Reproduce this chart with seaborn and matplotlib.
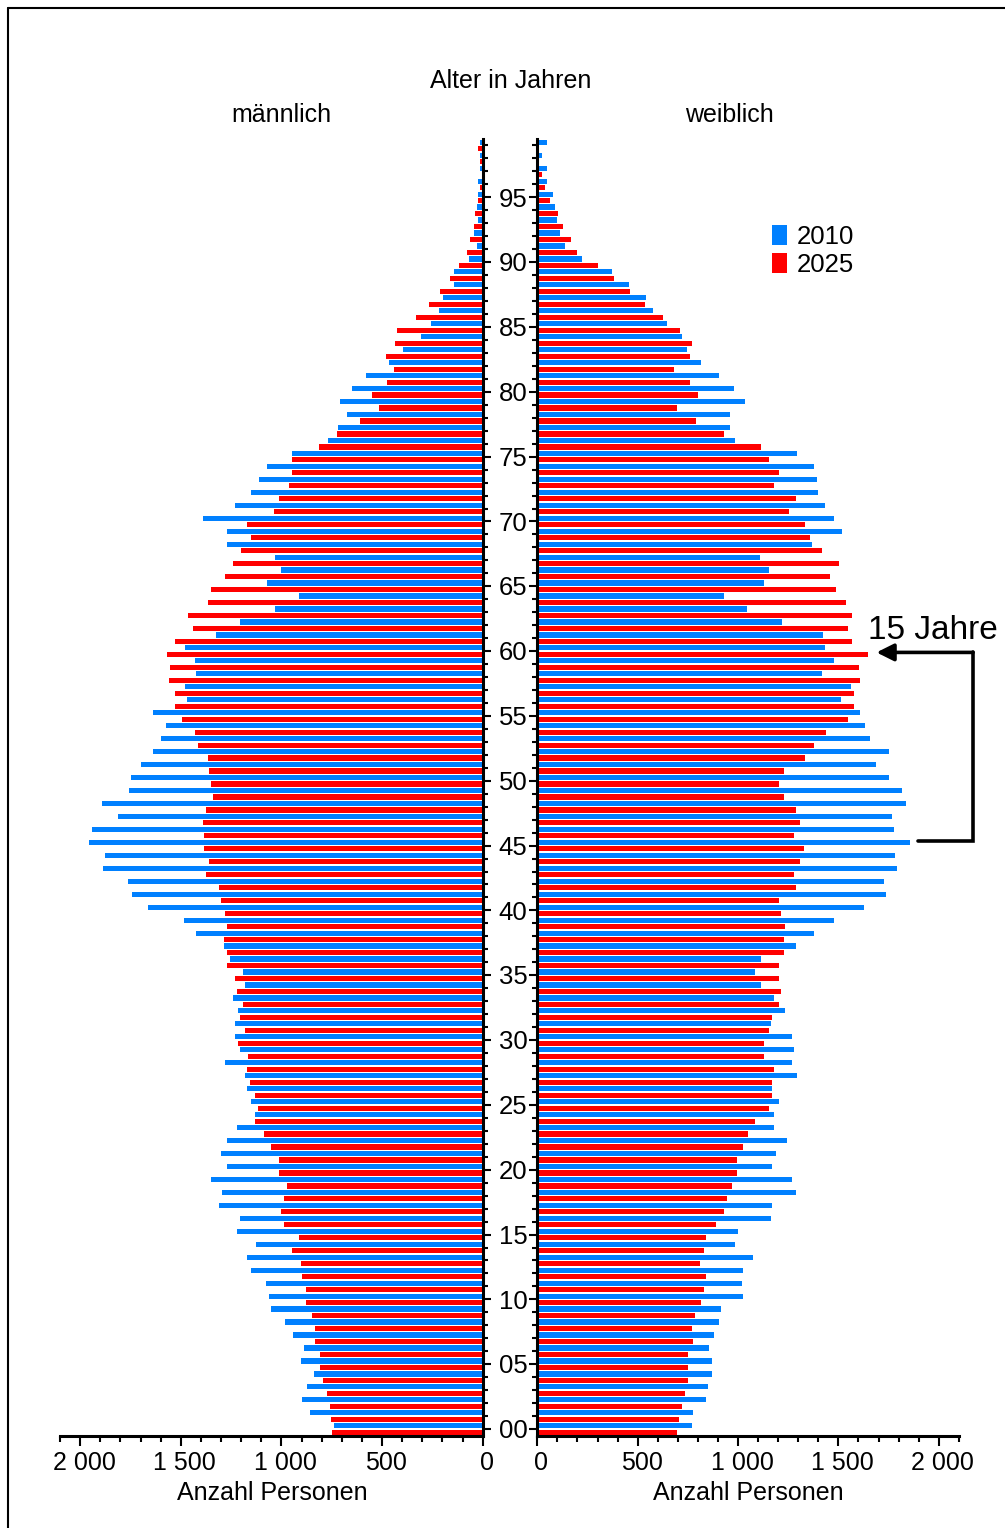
import matplotlib
matplotlib.use("Agg")
import matplotlib.pyplot as plt
import pandas as pd
import seaborn as sns
from matplotlib.lines import Line2D
from matplotlib.patches import Patch
from matplotlib.ticker import FixedLocator, FuncFormatter, MultipleLocator
from matplotlib.transforms import blended_transform_factory, ScaledTranslation

# Population by single year of age (0 ... 99), persons
ages = list(range(100))
years = ["2010", "2025"]
colors = {"2010": "#0080FF", "2025": "#FF0000"}

male_2010 = [740, 860, 900, 875, 840, 905, 890, 940, 980, 1050,
             1060, 1075, 1150, 1170, 1125, 1220, 1205, 1310, 1295, 1350,
             1270, 1300, 1270, 1220, 1130, 1150, 1170, 1180, 1280, 1205,
             1230, 1230, 1215, 1240, 1180, 1190, 1255, 1285, 1425, 1485,
             1665, 1740, 1760, 1885, 1875, 1955, 1940, 1810, 1890, 1755,
             1745, 1700, 1640, 1600, 1575, 1640, 1470, 1480, 1425, 1430,
             1480, 1325, 1205, 1030, 915, 1070, 1000, 1030, 1270, 1270,
             1390, 1230, 1150, 1110, 1070, 945, 770, 720, 675, 710,
             650, 580, 465, 395, 305, 255, 215, 195, 145, 145,
             70, 30, 45, 25, 30, 25, 25, 15, 15, 15]

male_2025 = [750, 755, 760, 775, 795, 810, 810, 835, 835, 850,
             880, 880, 900, 905, 945, 915, 985, 1000, 985, 970,
             1010, 1010, 1050, 1085, 1130, 1115, 1130, 1155, 1170, 1165,
             1215, 1180, 1205, 1190, 1220, 1230, 1270, 1270, 1285, 1270,
             1280, 1300, 1310, 1375, 1360, 1385, 1385, 1390, 1375, 1340,
             1350, 1360, 1365, 1415, 1430, 1495, 1530, 1530, 1560, 1555,
             1570, 1530, 1440, 1465, 1365, 1350, 1280, 1240, 1200, 1150,
             1170, 1035, 1010, 960, 945, 945, 815, 725, 610, 515,
             550, 475, 440, 480, 435, 425, 330, 265, 210, 160,
             120, 80, 65, 45, 40, 25, 15, 0, 15, 25]

female_2010 = [770, 775, 840, 850, 870, 870, 855, 880, 905, 915,
               1025, 1020, 1025, 1075, 985, 1000, 1165, 1170, 1290, 1270,
               1170, 1190, 1245, 1180, 1180, 1205, 1170, 1295, 1270, 1280,
               1270, 1165, 1235, 1180, 1115, 1085, 1115, 1290, 1380, 1480,
               1630, 1735, 1725, 1790, 1780, 1855, 1775, 1765, 1835, 1815,
               1750, 1685, 1750, 1660, 1635, 1610, 1515, 1565, 1420, 1480,
               1435, 1425, 1220, 1045, 930, 1130, 1155, 1110, 1370, 1520,
               1480, 1435, 1400, 1395, 1380, 1295, 985, 960, 960, 1035,
               980, 905, 815, 745, 720, 645, 575, 540, 455, 370,
               225, 140, 115, 100, 90, 80, 50, 50, 25, 50]

female_2025 = [695, 705, 720, 735, 750, 750, 750, 775, 770, 785,
               815, 830, 840, 810, 830, 840, 890, 930, 945, 970,
               995, 995, 1025, 1050, 1085, 1155, 1170, 1170, 1180, 1130,
               1130, 1155, 1170, 1205, 1215, 1205, 1205, 1230, 1230, 1235,
               1215, 1205, 1290, 1280, 1310, 1330, 1280, 1310, 1290, 1230,
               1205, 1230, 1335, 1380, 1440, 1550, 1580, 1580, 1610, 1605,
               1650, 1570, 1550, 1570, 1540, 1490, 1460, 1505, 1420, 1360,
               1335, 1255, 1290, 1180, 1205, 1155, 1115, 930, 790, 695,
               800, 760, 680, 760, 770, 710, 625, 535, 460, 380,
               300, 200, 170, 130, 105, 65, 40, 25, 0, 0]

x_ticks = [0, 500, 1000, 1500, 2000]
age_labels = list(range(0, 100, 5))

sns.set_theme(style="ticks", rc={
    "axes.edgecolor": "black",
    "xtick.color": "black",
    "ytick.color": "black",
    "text.color": "black",
    "axes.labelcolor": "black",
})
plt.rcParams["font.family"] = ["Liberation Sans", "DejaVu Sans"]

W, H = 1005, 1528
fig = plt.figure(figsize=(W / 100, H / 100), dpi=100)


def px_box(x0, x1, y_top, y_bot):
    return [x0 / W, 1 - y_bot / H, (x1 - x0) / W, (y_bot - y_top) / H]


ax_m = fig.add_axes(px_box(60, 482.7, 139, 1435.5))
ax_f = fig.add_axes(px_box(537.3, 958.8, 139, 1435.5))

order = [str(a) for a in range(99, -1, -1)]


def long_table(values_2010, values_2025):
    return pd.DataFrame({
        "Alter": [str(a) for a in ages] * 2,
        "Anzahl": list(values_2010) + list(values_2025),
        "Jahr": ["2010"] * len(ages) + ["2025"] * len(ages),
    })


for ax, table in ((ax_m, long_table(male_2010, male_2025)),
                  (ax_f, long_table(female_2010, female_2025))):
    sns.barplot(data=table, x="Anzahl", y="Alter", hue="Jahr",
                order=order, hue_order=years, palette=colors,
                orient="y", width=1.0, gap=0.2, saturation=1,
                linewidth=0, errorbar=None, legend=False, ax=ax)

ax_m.set_xlim(2100, 0)
ax_f.set_xlim(0, 2100)

thousands = FuncFormatter(lambda v, p: f"{int(round(v)):,}".replace(",", " "))
label_shift = ScaledTranslation(4 / 100, 0, fig.dpi_scale_trans)

for ax in (ax_m, ax_f):
    ax.set_ylim(99.5, -0.5)
    ax.set_xlabel("")
    ax.set_ylabel("")
    ax.xaxis.set_major_locator(FixedLocator(x_ticks))
    ax.xaxis.set_minor_locator(MultipleLocator(100))
    ax.xaxis.set_major_formatter(thousands)
    ax.tick_params(axis="x", which="major", direction="out", length=7.2,
                   width=1.5, labelsize=18, pad=4, bottom=True)
    ax.tick_params(axis="x", which="minor", direction="out", length=4.3,
                   width=1.5, bottom=True)
    ax.yaxis.set_major_locator(FixedLocator([99 - a for a in age_labels]))
    ax.yaxis.set_minor_locator(FixedLocator([99 - a for a in ages]))
    ax.spines["top"].set_visible(False)
    for s in ax.spines.values():
        s.set_linewidth(2.2)
        s.set_color("black")

# men: axis line on the right, next to the age column
ax_m.spines["left"].set_visible(False)
ax_m.yaxis.tick_right()
ax_m.tick_params(axis="y", which="major", direction="out", length=6.1,
                 width=1.5, left=False, right=True, labelleft=False, labelright=False)
ax_m.tick_params(axis="y", which="minor", direction="out", length=3.6,
                 width=1.5, left=False, right=True)

# women: axis line on the left
ax_f.spines["right"].set_visible(False)
ax_f.tick_params(axis="y", which="major", direction="out", length=6.1,
                 width=1.5, left=True, right=False, labelleft=False)
ax_f.tick_params(axis="y", which="minor", direction="out", length=3.6,
                 width=1.5, left=True, right=False)

# nudge the count labels slightly to the right
for ax in (ax_m, ax_f):
    for lab in ax.get_xticklabels():
        lab.set_transform(lab.get_transform() + label_shift)

# age labels in the centre column
trans = blended_transform_factory(fig.transFigure, ax_f.transData)
for a in age_labels:
    ax_f.text(513 / W, 99 - a + 0.17, f"{a:02d}", transform=trans, ha="center",
              va="center", fontsize=18.5, clip_on=False)

# headings and axis titles
fig.text(511 / W, 1 - 81 / H, "Alter in Jahren", ha="center", va="center", fontsize=18)
fig.text(281 / W, 1 - 115 / H, "männlich", ha="center", va="center", fontsize=18)
fig.text(729 / W, 1 - 115 / H, "weiblich", ha="center", va="center", fontsize=18)
fig.text(272 / W, 1 - 1493 / H, "Anzahl Personen", ha="center", va="center", fontsize=18)
fig.text(748 / W, 1 - 1493 / H, "Anzahl Personen", ha="center", va="center", fontsize=18)

# legend
handles = [Patch(facecolor=colors[y], edgecolor="none", label=y) for y in years]
fig.legend(handles=handles, loc="upper left", bbox_to_anchor=(772 / W, 1 - 225 / H),
           frameon=False, fontsize=18.5, handlelength=0.6, handleheight=0.85,
           handletextpad=0.35, labelspacing=0.15, borderpad=0, borderaxespad=0)

# bracket: the 45-year-old cohort of 2010 is 60 in 2025
y45 = 99 - 45 - 0.35
y60 = 99 - 60 + 0.1
ax_f.plot([1897, 2171, 2171], [y45, y45, y60], color="black", lw=2.6,
          clip_on=False, solid_joinstyle="miter")
ax_f.annotate("", xy=(1690, y60), xytext=(2171, y60), annotation_clip=False,
              arrowprops=dict(arrowstyle="-|>", lw=2.6, color="black",
                              mutation_scale=26, shrinkA=0, shrinkB=0))
ax_f.text(1648, 37.4, "15 Jahre", ha="left", va="center", fontsize=24, clip_on=False)

# outer frame
fig.add_artist(Line2D([8 / W, 8 / W], [0, 1 - 8 / H], transform=fig.transFigure,
                      color="black", lw=1.5))
fig.add_artist(Line2D([8 / W, 1], [1 - 8 / H, 1 - 8 / H], transform=fig.transFigure,
                      color="black", lw=1.5))

fig.savefig("out.png", dpi=100)
